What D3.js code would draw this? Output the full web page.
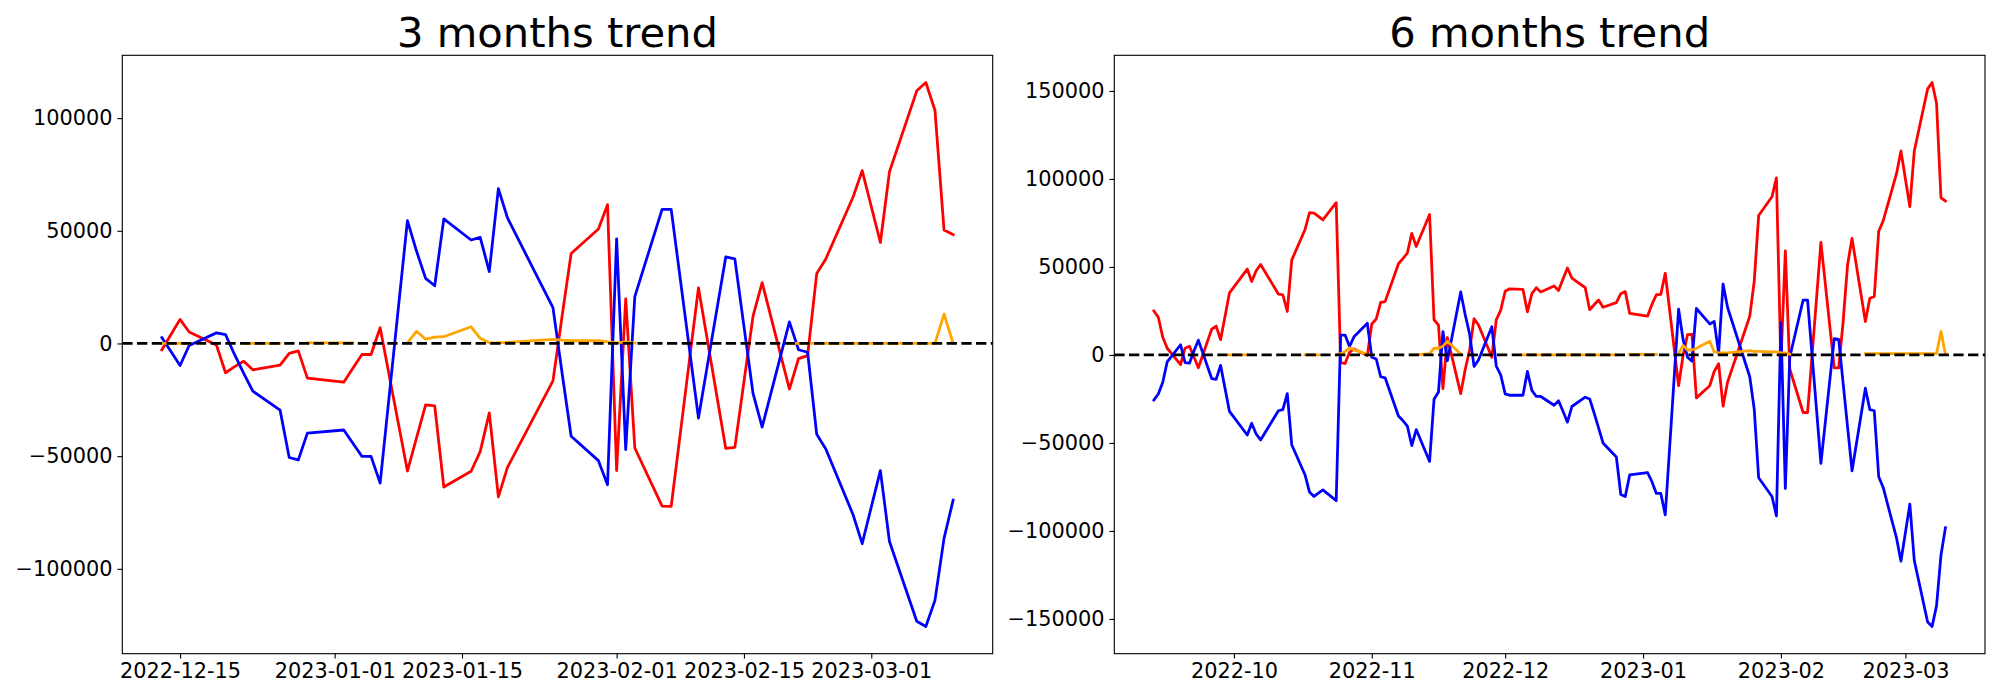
<!DOCTYPE html>
<html><head><meta charset="utf-8">
<script src="https://cdn.jsdelivr.net/npm/d3@7"></script>
<style>body{margin:0;background:#fff} svg{display:block}</style>
</head><body><svg id="c" width="2000" height="700"></svg>
<script>
// ---------- 3 months trend ----------
const leftDates = ["2022-12-13","2022-12-14","2022-12-15","2022-12-16","2022-12-19","2022-12-20","2022-12-21","2022-12-22","2022-12-23","2022-12-26","2022-12-27","2022-12-28","2022-12-29","2023-01-02","2023-01-03","2023-01-04","2023-01-05","2023-01-06","2023-01-09","2023-01-10","2023-01-11","2023-01-12","2023-01-13","2023-01-16","2023-01-17","2023-01-18","2023-01-19","2023-01-20","2023-01-25","2023-01-26","2023-01-27","2023-01-30","2023-01-31","2023-02-01","2023-02-02","2023-02-03","2023-02-06","2023-02-07","2023-02-08","2023-02-09","2023-02-10","2023-02-13","2023-02-14","2023-02-15","2023-02-16","2023-02-17","2023-02-20","2023-02-21","2023-02-22","2023-02-23","2023-02-24","2023-02-27","2023-02-28","2023-03-02","2023-03-03","2023-03-06","2023-03-07","2023-03-08","2023-03-09","2023-03-10"];
const leftRed = [-2800,4000,10700,5100,-700,-13000,-10300,-7900,-11700,-9600,-4400,-3300,-15400,-17200,-11000,-4900,-4900,7000,-56600,-41900,-27300,-27700,-63700,-56700,-48000,-30800,-68100,-55000,-16600,12000,39900,50800,61600,-56400,19800,-46400,-72200,-72300,-40000,-7600,24700,-46600,-46100,-17000,12100,27000,-20300,-6700,-5400,31000,37500,65000,76700,44800,76200,112100,115800,103500,50300,48300];
const leftBlue = [2600,-3600,-9800,-900,4700,3900,-5000,-13300,-21200,-29600,-50600,-51700,-39800,-38400,-44300,-50100,-50100,-62000,54500,41000,28900,25600,55300,45900,47100,31900,68700,55700,15900,-13000,-41200,-52000,-62700,46400,-47100,20800,59500,59500,28600,-2300,-33100,38400,37500,7600,-22200,-37100,9600,-2800,-3900,-40300,-46800,-76000,-88800,-56400,-87900,-123300,-125600,-114000,-86500,-69500];
const leftOrange = [0,0,0,0,null,null,null,0,0,0,null,null,300,300,300,null,null,null,300,5400,1900,2800,3000,7400,2300,300,300,500,1800,1500,1200,1200,700,300,700,200,null,null,null,null,null,null,null,null,null,null,0,0,0,0,0,0,0,0,0,0,0,0,13000,0];
const leftXTicks = ["2022-12-15","2023-01-01","2023-01-15","2023-02-01","2023-02-15","2023-03-01"];
const leftYTicks = [-100000,-50000,0,50000,100000];

// ---------- 6 months trend ----------
const rightDates = ["2022-09-13","2022-09-14","2022-09-15","2022-09-16","2022-09-19","2022-09-20","2022-09-21","2022-09-22","2022-09-23","2022-09-26","2022-09-27","2022-09-28","2022-09-29","2022-09-30",
"2022-10-04","2022-10-05","2022-10-06","2022-10-07","2022-10-11","2022-10-12","2022-10-13","2022-10-14","2022-10-17","2022-10-18","2022-10-19","2022-10-20","2022-10-21","2022-10-24","2022-10-25","2022-10-26","2022-10-27","2022-10-28","2022-10-31",
"2022-11-01","2022-11-02","2022-11-03","2022-11-04","2022-11-07","2022-11-08","2022-11-09","2022-11-10","2022-11-11","2022-11-14","2022-11-15","2022-11-16","2022-11-17","2022-11-18","2022-11-21","2022-11-22","2022-11-23","2022-11-24","2022-11-25","2022-11-28","2022-11-29","2022-11-30",
"2022-12-01","2022-12-02","2022-12-05","2022-12-06","2022-12-07","2022-12-08","2022-12-09","2022-12-12","2022-12-13","2022-12-14","2022-12-15","2022-12-16","2022-12-19","2022-12-20","2022-12-21","2022-12-22","2022-12-23","2022-12-26","2022-12-27","2022-12-28","2022-12-29",
"2023-01-02","2023-01-03","2023-01-04","2023-01-05","2023-01-06","2023-01-09","2023-01-10","2023-01-11","2023-01-12","2023-01-13","2023-01-16","2023-01-17","2023-01-18","2023-01-19","2023-01-20","2023-01-25","2023-01-26","2023-01-27","2023-01-30","2023-01-31",
"2023-02-01","2023-02-02","2023-02-03","2023-02-06","2023-02-07","2023-02-08","2023-02-09","2023-02-10","2023-02-13","2023-02-14","2023-02-15","2023-02-16","2023-02-17","2023-02-20","2023-02-21","2023-02-22","2023-02-23","2023-02-24","2023-02-27","2023-02-28",
"2023-03-02","2023-03-03","2023-03-06","2023-03-07","2023-03-08","2023-03-09","2023-03-10"];
const rightRed = [25000,21400,10000,3800,-5500,3800,4900,-1000,-7300,14600,16400,8700,21800,35300,
48800,41700,47800,51400,34600,34200,24700,53900,71300,80800,80600,78700,76700,86500,-4300,-4900,1500,3400,-300,
17600,20400,29900,30300,51800,54700,57900,69100,61600,79800,20000,17000,-19100,9900,-22000,-8400,2800,20600,17000,-1300,20000,25500,
36200,37600,37200,24500,34800,38200,35800,39200,36600,43100,49400,43700,38200,25700,28500,31200,27100,29700,34800,36000,23600,
22000,28700,34200,34400,46400,-17500,-300,11500,11700,-24400,-17500,-9400,-5000,-29100,-15500,22000,41700,79200,89900,100600,
-5000,59100,-8000,-32700,-32700,-500,31600,63900,-7400,-7400,19000,51400,66200,19000,32200,33200,70300,76200,103000,115900,
84200,115900,151200,154800,143000,89300,87500];
const rightBlue = [-25600,-22200,-15500,-3900,5800,-4300,-4700,2200,8400,-13400,-13900,-5900,-19000,-32100,
-45500,-38800,-44900,-48300,-31700,-31100,-22000,-51000,-68200,-77900,-80400,-78500,-76700,-82800,11300,11300,4800,10300,18000,
-1300,-2300,-12400,-13000,-34700,-37300,-40400,-51500,-42400,-60500,-25200,-21100,13300,-3300,35800,23000,11900,-6500,-2900,16000,-6300,-11400,
-22100,-22900,-22900,-9400,-20100,-23600,-23600,-28600,-26000,-32000,-38200,-29300,-24000,-25000,-33000,-41500,-50000,-58000,-79300,-80400,-68200,
-66800,-72000,-78700,-78700,-90900,26000,8800,-1300,-3500,26400,17600,19000,1000,40300,27100,-12400,-30700,-69800,-80400,-91500,
18400,-75900,-1300,31200,31200,300,-30600,-61600,9300,8800,-16100,-41000,-65800,-18900,-31100,-31700,-69200,-75300,-104000,-117200,
-84800,-116800,-151700,-154300,-142600,-113800,-98200];
const rightOrange = [null,null,null,null,null,null,null,null,null,null,null,null,null,0,
0,null,null,null,null,null,null,null,0,0,0,0,null,0,700,2000,4000,3000,300,
0,null,null,null,null,null,null,0,0,700,3800,3800,5000,7800,500,null,null,null,null,null,null,null,
null,null,0,0,0,0,0,0,0,0,0,0,0,0,0,0,0,0,null,null,300,
300,300,300,null,null,700,5400,2800,2800,3800,7800,1800,1200,1200,1200,2400,2000,2000,1800,1800,
1200,1200,500,null,null,null,null,null,null,null,null,null,null,700,700,700,700,700,700,700,
700,700,700,700,700,13400,300];
const rightXTicks = ["2022-10-01","2022-11-01","2022-12-01","2023-01-01","2023-02-01","2023-03-01"];
const rightYTicks = [-150000,-100000,-50000,0,50000,100000,150000];

const seriesColors = {red:"#ff0000", blue:"#0000ff", orange:"#ffa500"};

const svg = d3.select("#c");
svg.append("rect").attr("width",2000).attr("height",700).attr("fill","#fff");
const parse = d3.utcParse("%Y-%m-%d");
const FONT = "'DejaVu Sans', sans-serif";

function panel(o){
  const y0 = 55.3, y1 = 653.7;
  const t = o.dates.map(parse);
  const [tmin, tmax] = d3.extent(t);
  const span = tmax - tmin;
  const x = d3.scaleUtc().domain([new Date(+tmin - 0.05*span), new Date(+tmax + 0.05*span)]).range([o.x0, o.x1]);
  const all = o.red.concat(o.blue, o.orange).filter(v => v != null);
  const [vmin, vmax] = d3.extent(all);
  const vs = vmax - vmin;
  const y = d3.scaleLinear().domain([vmin - 0.05*vs, vmax + 0.05*vs]).range([y1, y0]);
  const g = svg.append("g");

  const mk = vals => d3.line().defined((d,i)=>vals[i]!=null).x((d,i)=>x(t[i])).y((d,i)=>y(vals[i]))(t);
  [["red",o.red],["blue",o.blue],["orange",o.orange]].forEach(([k,vals])=>{
    g.append("path").attr("d",mk(vals)).attr("fill","none").attr("stroke",seriesColors[k])
      .attr("stroke-width",2.78).attr("stroke-linejoin","round").attr("stroke-linecap","square");
  });
  g.append("line").attr("x1",o.x0).attr("x2",o.x1).attr("y1",y(0)).attr("y2",y(0))
    .attr("stroke","#000").attr("stroke-width",2.78).attr("stroke-dasharray","10.28 4.44");

  const ya = g.append("g").attr("transform",`translate(${o.x0},0)`)
    .call(d3.axisLeft(y).tickValues(o.yTicks).tickSize(4.86).tickPadding(4.86).tickFormat(d3.format("d")));
  const xa = g.append("g").attr("transform",`translate(0,${y1})`)
    .call(d3.axisBottom(x).tickValues(o.xTicks.map(parse)).tickSize(4.86).tickPadding(4.86).tickFormat(d3.utcFormat(o.xFmt)));
  [ya,xa].forEach(a=>{
    a.select(".domain").remove();
    a.attr("font-family",FONT).attr("font-size",20.83).attr("color","#000");
    a.selectAll("line").attr("stroke-width",1.11);
  });
  g.append("rect").attr("x",o.x0).attr("y",y0).attr("width",o.x1-o.x0).attr("height",y1-y0)
    .attr("fill","none").attr("stroke","#000").attr("stroke-width",1.11);
  g.append("text").attr("x",(o.x0+o.x1)/2).attr("y",y0-8.5).attr("text-anchor","middle")
    .attr("font-family",FONT).attr("font-size",41.67).attr("fill","#000").text(o.title);
}

panel({dates:leftDates, red:leftRed, blue:leftBlue, orange:leftOrange, x0:122.3, x1:992.7,
  title:"3 months trend", xTicks:leftXTicks, xFmt:"%Y-%m-%d", yTicks:leftYTicks});
panel({dates:rightDates, red:rightRed, blue:rightBlue, orange:rightOrange, x0:1114.3, x1:1985,
  title:"6 months trend", xTicks:rightXTicks, xFmt:"%Y-%m", yTicks:rightYTicks});
</script>
</body></html>
